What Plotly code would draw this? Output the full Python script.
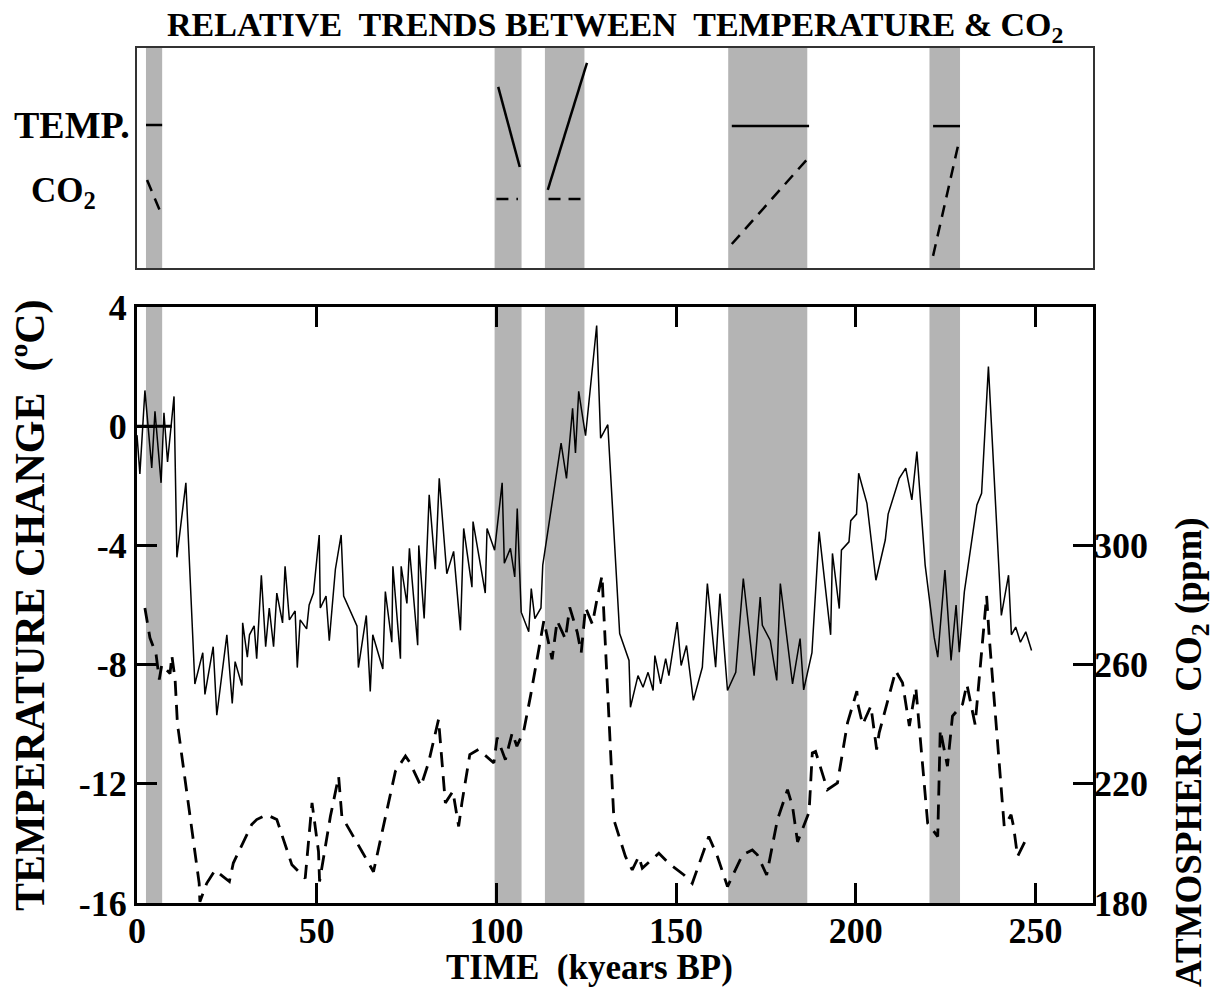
import plotly.graph_objects as go

# ---------------- data ----------------
time_temp = [0.0, 0.8, 2.2, 4.1, 5.0, 6.7, 7.5, 8.5, 10.3, 11.1, 13.6, 16.1, 18.3, 18.9, 21.2, 22.2,
             25.0, 26.5, 27.3, 29.2, 29.4, 30.7, 31.3, 32.6, 33.3, 34.6, 35.8, 36.8, 38.0, 38.9,
             40.5, 41.2, 42.4, 44.0, 44.6, 45.4, 47.2, 47.9, 49.1, 50.7, 51.0, 52.6, 53.5, 55.2,
             56.8, 57.5, 61.2, 61.6, 63.8, 64.9, 65.6, 68.4, 69.1, 70.9, 71.2, 73.3, 73.5, 75.1,
             75.8, 78.1, 78.4, 79.9, 81.3, 83.0, 84.1, 86.2, 88.1, 90.0, 90.9, 93.2, 93.5, 96.9,
             97.4, 99.5, 101.6, 102.2, 103.9, 105.1, 105.8, 106.9, 109.0, 109.7, 110.7, 112.4,
             112.9, 118.0, 119.5, 121.2, 122.0, 122.9, 124.8, 127.9, 129.0, 131.0, 134.3, 136.9,
             137.3, 139.4, 140.8, 142.2, 143.6, 144.1, 145.7, 147.1, 148.0, 150.3, 151.4, 152.9,
             154.8, 157.3, 158.7, 161.0, 162.2, 164.3, 166.6, 168.7, 171.7, 173.4, 174.0, 176.2,
             178.0, 179.0, 182.4, 184.5, 185.5, 187.8, 189.8, 193.0, 193.5, 195.4, 196.0, 198.1,
             198.6, 200.2, 200.8, 203.1, 205.6, 208.2, 209.0, 212.1, 213.9, 215.6, 217.0, 219.3,
             221.8, 222.8, 224.8, 226.5, 227.9, 228.8, 230.2, 233.7, 235.0, 236.9, 240.5, 242.5,
             243.3, 244.5, 245.8, 247.3, 248.9]
temp_change = [-0.3, -1.6, 1.2, -1.4, 0.5, -1.9, 0.45, -1.2, 1.0, -4.4, -1.9, -8.65, -7.6, -9.0, -7.4, -9.7,
               -7.0, -9.3, -7.9, -8.7, -6.6, -7.75, -7.0, -6.7, -7.8, -5.0, -7.4, -6.1, -7.4, -5.6,
               -6.6, -4.7, -6.5, -6.2, -8.1, -6.5, -6.8, -6.0, -5.6, -3.65, -6.1, -5.7, -7.2, -4.8,
               -3.65, -5.7, -6.7, -8.1, -6.35, -8.9, -7.0, -8.15, -5.55, -7.25, -4.7, -7.8, -4.7, -5.95,
               -4.1, -7.35, -4.0, -6.45, -2.3, -4.8, -1.75, -4.95, -4.2, -6.85, -3.43, -5.4, -3.2, -5.6,
               -3.43, -4.16, -1.9, -4.6, -4.1, -5.06, -2.76, -6.24, -6.9, -5.45, -6.46, -6.1,
               -4.66, -0.57, -1.75, 0.6, -0.9, 1.17, -0.32, 3.38, -0.4, 0.05, -6.96, -7.86,
               -9.43, -8.37, -8.76, -8.26, -8.87, -7.7, -8.65, -7.8, -8.37, -6.57, -8.03, -7.36,
               -9.2, -8.09, -5.28, -8.09, -5.62, -8.87, -8.26, -5.11, -8.37, -5.73, -6.68, -7.19,
               -8.53, -5.28, -8.65, -7.13, -8.85, -7.6, -3.54, -7.0, -4.27, -6.12, -4.16, -3.88,
               -3.17, -2.95, -1.58, -2.59, -5.17, -3.82, -2.95, -1.75, -1.41, -2.47, -0.85, -4.66,
               -7.08, -7.75, -4.83, -7.86, -6.0, -7.58, -5.56, -2.64, -2.25, 2.0, -6.35, -5.0,
               -7.0, -6.74, -7.25, -6.9, -7.53]

time_co2 = [2.2, 3.6, 5.3, 6.2, 6.9, 9.2, 9.7, 10.6, 11.3, 11.5, 17.3, 17.5, 19.4, 21.7, 25.7, 26.8,
            31.9, 33.3, 36.1, 38.9, 43.1, 46.8, 48.7, 50.5, 50.8, 53.8, 56.1, 57.0, 62.6, 65.8,
            71.9, 74.7, 76.0, 79.0, 81.1, 83.9, 85.8, 87.9, 89.5, 90.4, 92.6, 95.0, 99.3, 100.2,
            102.5, 104.4, 105.7, 107.6, 109.5, 113.2, 115.5, 116.9, 119.2, 120.4, 122.5, 123.6,
            124.8, 126.7, 128.0, 129.4, 129.7, 132.7, 135.9, 137.8, 139.6, 140.6, 145.2, 148.0,
            152.2, 154.5, 159.1, 161.5, 164.3, 168.5, 171.2, 172.6, 175.2, 178.2, 181.0, 182.4,
            183.8, 187.0, 187.9, 188.8, 192.1, 194.9, 197.7, 200.3, 200.5, 201.9, 204.2, 205.8,
            206.5, 211.1, 213.0, 214.9, 216.7, 220.0, 222.8, 223.5, 225.5, 226.9, 229.7, 230.9,
            233.2, 235.7, 236.4, 237.1, 241.3, 243.2, 243.9, 245.0, 248.0]
co2_ppm = [279, 269, 263.5, 255, 260, 257, 263, 255, 239, 238, 186.6, 180.4, 186.6, 191, 187.2, 193.4,
           206.3, 208, 209.6, 208, 192.8, 188.3, 213.6, 197.3, 187.2, 209, 222.5, 209, 197.3, 190.5,
           224.2, 229.3, 227, 219.2, 227, 241.6, 213.6, 217.5, 205.7, 213.6, 229.8, 231.5, 227, 235.5,
           228.1, 237.1, 232.6, 237.7, 249.5, 274.7, 261.8, 274.7, 268.6, 279.2, 270.8, 264,
           279.2, 273.6, 282, 289.9, 282, 207.9, 195.6, 191.1, 195.6, 191.7, 196.7, 193.3,
           189.4, 186.6, 202.3, 195.6, 185.5, 196.2, 197.8, 196.2, 189.4, 208, 218, 212.4,
           200.5, 210.5, 230.4, 230.9, 218, 220.3, 240.5, 251.1, 247.2, 239.9, 246.1, 231.5,
           237.1, 257.9, 253.9, 239.4, 252.3, 206.8, 202.3, 238.2, 225.9, 242.7, 246.7, 253.4,
           239.9, 273.6, 283.1, 269.7, 205.7, 209.6, 205.7, 195.6, 202.9]

# shaded intervals (kyears BP)
band_start = [2.5, 99.5, 113.5, 164.5, 220.5]
band_end = [7.0, 107.0, 124.5, 186.5, 229.0]

# relative-trend segments in top panel (relative units 0-100)
trend_t_x0 = [2.5, 100.5, 114.3, 165.5, 221.5]
trend_t_x1 = [7.0, 106.5, 125.2, 187.0, 229.0]
trend_t_y0 = [65, 82.3, 35.5, 64.5, 64.5]
trend_t_y1 = [65, 45.9, 93.2, 64.5, 64.5]
trend_c_x0 = [2.8, 100.0, 114.5, 165.5, 221.5]
trend_c_x1 = [7.0, 106.0, 124.0, 186.5, 228.5]
trend_c_y0 = [40, 31.4, 31.4, 10.9, 5.5]
trend_c_y1 = [23.6, 31.4, 31.4, 49.5, 56]

zero_ref_x = [0, 9.7]
zero_ref_y = [0, 0]

x_ticks = [0, 50, 100, 150, 200, 250]
x_tick_text = ["0", "50", "100", "150", "200", "250"]
t_ticks = [4, 0, -4, -8, -12, -16]
t_tick_text = ["4", "0", "-4", "-8", "-12", "-16"]
c_ticks = [180, 220, 260, 300]
c_tick_text = ["180", "220", "260", "300"]

# ---------------- figure ----------------
W, H = 1220, 989
FONT = "Liberation Serif"
DASH = "15px,9px"


def px_x(p):
    return p / W


def px_y(p):
    return 1 - p / H


xdom = [px_x(137), px_x(1093)]
ydom_main = [px_y(903), px_y(307)]
ydom_top = [px_y(268), px_y(48)]

fig = go.Figure()

fig.add_trace(go.Scatter(x=time_temp, y=temp_change, mode="lines",
                         line=dict(color="black", width=1.5), xaxis="x", yaxis="y",
                         showlegend=False))
fig.add_trace(go.Scatter(x=zero_ref_x, y=zero_ref_y, mode="lines",
                         line=dict(color="black", width=3), xaxis="x", yaxis="y",
                         showlegend=False))
fig.add_trace(go.Scatter(x=time_co2, y=co2_ppm, mode="lines",
                         line=dict(color="black", width=2.8, dash=DASH), xaxis="x", yaxis="y2",
                         showlegend=False))

# top panel segments
tx, ty, cx, cy = [], [], [], []
for i in range(len(trend_t_x0)):
    tx += [trend_t_x0[i], trend_t_x1[i], None]
    ty += [trend_t_y0[i], trend_t_y1[i], None]
    cx += [trend_c_x0[i], trend_c_x1[i], None]
    cy += [trend_c_y0[i], trend_c_y1[i], None]
fig.add_trace(go.Scatter(x=tx, y=ty, mode="lines", line=dict(color="black", width=2.5),
                         xaxis="x2", yaxis="y3", showlegend=False, connectgaps=False))
fig.add_trace(go.Scatter(x=cx, y=cy, mode="lines", line=dict(color="black", width=2.5, dash="12px,8px"),
                         xaxis="x2", yaxis="y3", showlegend=False, connectgaps=False))

shapes = []
for s, e in zip(band_start, band_end):
    shapes.append(dict(type="rect", xref="x", yref="y domain", x0=s, x1=e, y0=0, y1=1,
                       fillcolor="#b4b4b4", line=dict(width=0), layer="below"))
    shapes.append(dict(type="rect", xref="x2", yref="y3 domain", x0=s, x1=e, y0=0, y1=1,
                       fillcolor="#b4b4b4", line=dict(width=0), layer="below"))

tickfont = dict(family=FONT, size=36, color="black", weight="bold")

fig.update_layout(
    width=W, height=H, margin=dict(l=0, r=0, t=0, b=0),
    paper_bgcolor="white", plot_bgcolor="white",
    template="none",
    font=dict(family=FONT, size=36, color="black", weight="bold"),
    shapes=shapes,
    xaxis=dict(domain=xdom, anchor="y", range=[0, 266], tickvals=x_ticks, ticktext=x_tick_text,
               ticks="inside", ticklen=20, tickwidth=2.5, tickcolor="black", showline=True,
               linewidth=3, linecolor="black", mirror="ticks", showgrid=False, zeroline=False,
               tickfont=tickfont, automargin=False, ticklabelstandoff=-6),
    yaxis=dict(domain=ydom_main, anchor="x", range=[-16, 4], tickvals=t_ticks, ticktext=t_tick_text,
               ticks="inside", ticklen=20, tickwidth=2.5, tickcolor="black", showline=True,
               linewidth=3, linecolor="black", mirror=True, showgrid=False, zeroline=False,
               tickfont=tickfont, automargin=False),
    yaxis2=dict(overlaying="y", side="right", anchor="x", range=[180, 380], tickvals=c_ticks,
                ticktext=c_tick_text, ticks="inside", ticklen=20, tickwidth=2.5, tickcolor="black",
                showline=False, showgrid=False, zeroline=False, tickfont=tickfont, automargin=False),
    xaxis2=dict(domain=xdom, anchor="y3", range=[0, 266], showticklabels=False, ticks="",
                showline=True, linewidth=2, linecolor="#333", mirror=True, showgrid=False,
                zeroline=False, automargin=False),
    yaxis3=dict(domain=ydom_top, anchor="x2", range=[0, 100], showticklabels=False, ticks="",
                showline=True, linewidth=2, linecolor="#333", mirror=True, showgrid=False,
                zeroline=False, automargin=False),
)


def ann(text, x, y, size, angle=0, xanchor="center"):
    fig.add_annotation(text=text, x=px_x(x), y=px_y(y), xref="paper", yref="paper",
                       showarrow=False, textangle=angle, xanchor=xanchor, yanchor="middle",
                       font=dict(family=FONT, size=size, color="black", weight="bold"))


ann("RELATIVE  TRENDS BETWEEN  TEMPERATURE & CO<sub>2</sub>", 615, 27, 34)
ann("TEMP.", 132, 125, 38, xanchor="right")
ann("CO<sub>2</sub>", 63, 192, 35)
ann("TIME  (kyears BP)", 589, 967, 35)
ann("TEMPERATURE CHANGE  (ºC)", 30, 605, 42, angle=-90)
ann("ATMOSPHERIC  CO<sub>2</sub> (ppm)", 1191, 752, 37, angle=-90)

fig.write_html("out.html")
